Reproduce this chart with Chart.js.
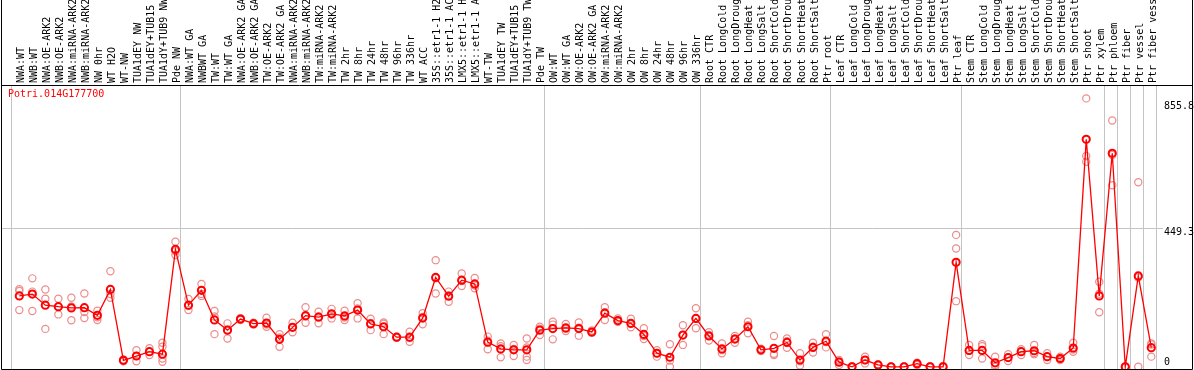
<!DOCTYPE html>
<html>
<head>
<meta charset="utf-8">
<script src="https://cdn.jsdelivr.net/npm/chart.js@4/dist/chart.umd.min.js"></script>
<style>
  html, body { margin: 0; padding: 0; background: #fff; }
  #wrap { width: 1194px; height: 370px; }
</style>
</head>
<body>
<div id="wrap"><canvas id="expr_chart"></canvas></div>
<script>
// Monster en waarden
var geneId = 'Potri.014G177700';

var sampleLabels = [
    'NWA:WT', 'NWB:WT', 'NWA:OE-ARK2', 'NWB:OE-ARK2', 'NWA:miRNA-ARK2', 'NWB:miRNA-ARK2',
    'NW 0hr', 'WT H2O', 'WT-NW', 'TUA1dEY NW', 'TUA1dEY+TUB15 NW', 'TUA1dY+TUB9 NW', 'Pde NW',
    'NWA:WT GA', 'NWBWT GA', 'TW:WT', 'TW:WT GA', 'NWA:OE-ARK2 GA', 'NWB:OE-ARK2 GA',
    'TW:OE-ARK2', 'TW:OE-ARK2 GA', 'NWA:miRNA-ARK2 GA', 'NWB:miRNA-ARK2 GA', 'TW:miRNA-ARK2',
    'TW:miRNA-ARK2 GA', 'TW 2hr', 'TW 8hr', 'TW 24hr', 'TW 48hr', 'TW 96hr', 'TW 336hr',
    'WT ACC', '35S::etr1-1 H2O', '35S::etr1-1 ACC', 'LMX5::etr1-1 H2O', 'LMX5::etr1-1 ACC',
    'WT-TW', 'TUA1dEY TW', 'TUA1dEY+TUB15 TW', 'TUA1dY+TUB9 TW', 'Pde TW',
    'OW:WT', 'OW:WT GA', 'OW:OE-ARK2', 'OW:OE-ARK2 GA', 'OW:miRNA-ARK2', 'OW:miRNA-ARK2 GA',
    'OW 2hr', 'OW 8hr', 'OW 24hr', 'OW 48hr', 'OW 96hr', 'OW 336hr',
    'Root CTR', 'Root LongCold', 'Root LongDrought', 'Root LongHeat', 'Root LongSalt',
    'Root ShortCold', 'Root ShortDrought', 'Root ShortHeat', 'Root ShortSalt', 'Ptr root',
    'Leaf CTR', 'Leaf LongCold', 'Leaf LongDrought', 'Leaf LongHeat', 'Leaf LongSalt',
    'Leaf ShortCold', 'Leaf ShortDrought', 'Leaf ShortHeat', 'Leaf ShortSalt', 'Ptr leaf',
    'Stem CTR', 'Stem LongCold', 'Stem LongDrought', 'Stem LongHeat', 'Stem LongSalt',
    'Stem ShortCold', 'Stem ShortDrought', 'Stem ShortHeat', 'Stem ShortSalt', 'Ptr shoot',
    'Ptr xylem', 'Ptr phloem', 'Ptr fiber', 'Ptr vessel', 'Ptr fiber vessel'
];

// gemiddelde per monster
var meanValues = [
    230, 236, 200, 195, 191, 192, 167, 251, 21, 35, 49, 41, 381,
    200, 248, 152, 119, 155, 140, 142, 89, 128, 166, 161, 172, 165, 184, 139, 130, 96, 96,
    158, 290, 229, 281, 269, 80, 58, 55, 55, 119,
    124, 126, 124, 113, 174, 150, 141, 105, 44, 31, 103, 157,
    100, 58, 90, 130, 55, 60, 79, 22, 63, 83,
    15, 0, 22, 6, 0, 0, 10, 0, 0, 339,
    53, 53, 13, 30, 49, 52, 33, 27, 61, 738,
    230, 693, 0, 295, 62
];

// losse replicaten per monster
var replicateValues = [
    [252, 246, 184], [287, 244, 181], [251, 221, 123], [221, 195, 170], [224, 196, 151],
    [238, 178, 158], [182, 161, 152], [310, 236, 224], [24, 18, 20], [54, 35, 18],
    [60, 49, 38], [78, 65, 27, 16], [406, 375, 363],
    [220, 198, 184], [269, 236, 230], [181, 163, 106], [141, 120, 92], [158, 152, 155],
    [143, 137, 140], [159, 137, 130], [106, 95, 65], [143, 128, 112], [193, 163, 143],
    [179, 163, 141], [188, 170, 157], [182, 160, 152], [206, 189, 157], [156, 142, 119],
    [144, 140, 106], [98, 94, 96], [114, 93, 81], [174, 162, 138], [346, 287, 238],
    [244, 232, 211], [303, 278, 262], [288, 264, 255], [98, 85, 57], [76, 67, 31],
    [71, 58, 35], [92, 63, 33, 22], [130, 124, 103],
    [146, 137, 89], [139, 123, 116], [144, 127, 101], [118, 110, 111], [193, 177, 152],
    [157, 147, 146], [156, 139, 128], [125, 100, 90], [54, 45, 33], [73, 20, 0],
    [135, 103, 71], [190, 156, 125],
    [112, 103, 85], [76, 54, 44], [100, 92, 78], [146, 135, 109], [59, 55, 51],
    [100, 42, 38], [92, 83, 62], [44, 18, 4], [78, 65, 46], [106, 80, 63],
    [22, 17, 6], [2, 0, 0], [33, 22, 11], [8, 6, 4], [0, 0, 0], [0, 0, 1], [13, 10, 6],
    [2, 0, 0], [3, 0, 0], [428, 384, 213],
    [71, 52, 38], [73, 67, 27], [33, 6, 0], [41, 30, 19], [57, 50, 38], [71, 45, 41],
    [44, 33, 22], [33, 27, 22], [78, 56, 49], [871, 684, 665],
    [276, 237, 177], [799, 687, 589], [0, 0, 0], [599, 290, 0], [76, 72, 33]
];

// rechter as: waarden en bijbehorende tekst
var yTickValues = [0, 449.3, 855.8];
var yTickTexts = ['0', '449.3', '855.8'];

// laatste monster van elke groep (scheidingslijnen)
var groupEnds = [-1, 12, 40, 52, 62, 72, 83, 84, 85, 86, 87];

var monoFont = { family: 'DejaVu Sans Mono', size: 10 };

// kader en titel
var kaderPlugin = {
    id: 'kader',
    afterDraw: function (chart) {
        var ctx = chart.ctx;
        ctx.save();
        ctx.strokeStyle = '#000';
        ctx.lineWidth = 1;
        ctx.beginPath();
        ctx.moveTo(1.5, 0); ctx.lineTo(1.5, 369.5);
        ctx.lineTo(1192.5, 369.5); ctx.lineTo(1192.5, 0);
        ctx.moveTo(1.5, 85.5); ctx.lineTo(1192.5, 85.5);
        ctx.stroke();
        ctx.fillStyle = '#ff0000';
        ctx.font = '10px "DejaVu Sans Mono"';
        ctx.textBaseline = 'alphabetic';
        ctx.fillText(geneId, 8, 97);
        ctx.restore();
    }
};

// geen extra ruimte voor de buitenste labels
function geenPadding(s) {
    s.paddingLeft = 0; s.paddingRight = 0; s.paddingTop = 0; s.paddingBottom = 0;
}

function tekenExpressieGrafiek() {
    var ctx = document.getElementById('expr_chart').getContext('2d');
    var meanPoints = meanValues.map(function (v, i) { return { x: i, y: v }; });
    var repPoints = [];
    replicateValues.forEach(function (reps, i) {
        reps.forEach(function (v) { repPoints.push({ x: i, y: v }); });
    });

    var xMin = -1.331, xMax = 87.9;
    var labelShift = 1.07; // gedraaide labels staan links van hun tick
    var yMin = -7.14, yMax = 914.4;

    return new Chart(ctx, {
        type: 'line',
        data: {
            datasets: [
                {
                    label: 'gemiddelde', data: meanPoints, order: 1,
                    borderColor: '#ff0000', borderWidth: 1.3,
                    pointRadius: 3.6, pointBorderWidth: 2, pointBorderColor: '#ff0000',
                    pointBackgroundColor: 'rgba(0,0,0,0)', tension: 0, xAxisID: 'x', yAxisID: 'y'
                },
                {
                    label: 'replicaten', data: repPoints, order: 2, showLine: false,
                    pointRadius: 3.6, pointBorderWidth: 1.2, pointBorderColor: 'rgb(236,140,140)',
                    pointBackgroundColor: 'rgba(0,0,0,0)', xAxisID: 'x', yAxisID: 'y'
                }
            ]
        },
        plugins: [kaderPlugin],
        options: {
            responsive: false,
            animation: false,
            devicePixelRatio: 1,
            layout: { autoPadding: false, padding: { left: 2, right: 0, top: 0, bottom: 1 } },
            plugins: { legend: { display: false }, tooltip: { enabled: false } },
            scales: {
                x: {
                    type: 'linear', position: 'bottom', min: xMin, max: xMax,
                    afterBuildTicks: function (s) { s.ticks = groupEnds.map(function (g) { return { value: g + 0.38 }; }); },
                    afterFit: function (s) { s.height = 0; geenPadding(s); },
                    grid: { color: '#c4c4c4', drawTicks: false, lineWidth: 1 },
                    border: { display: false },
                    ticks: { display: false }
                },
                xTop: {
                    type: 'linear', position: 'top', min: xMin - labelShift, max: xMax - labelShift,
                    afterBuildTicks: function (s) { s.ticks = sampleLabels.map(function (l, i) { return { value: i }; }); },
                    afterFit: function (s) { s.height = 85; geenPadding(s); },
                    grid: { display: false, drawTicks: false },
                    border: { display: false },
                    ticks: {
                        autoSkip: false, minRotation: 90, maxRotation: 90, padding: 2,
                        font: monoFont, color: '#000',
                        callback: function (v, i) { return sampleLabels[i]; }
                    }
                },
                y: {
                    type: 'linear', position: 'right', min: yMin, max: yMax,
                    afterBuildTicks: function (s) { s.ticks = [{ value: yTickValues[1] }]; },
                    afterFit: function (s) { s.width = 0; geenPadding(s); },
                    grid: { color: '#c4c4c4', drawTicks: false },
                    border: { display: false },
                    ticks: { display: false }
                },
                yLab: {
                    type: 'linear', position: 'right', min: yMin, max: yMax,
                    // tekst iets onder de lijn, 0 iets erboven
                    afterBuildTicks: function (s) { s.ticks = [{ value: 14.6 }, { value: 437.4 }, { value: 846 }]; },
                    afterFit: function (s) { s.width = 31; geenPadding(s); },
                    grid: { display: false, drawTicks: false },
                    border: { display: false },
                    ticks: {
                        padding: 1, font: monoFont, color: '#000',
                        callback: function (v, i) { return yTickTexts[i]; }
                    }
                }
            }
        }
    });
}

document.getElementById('expr_chart').width = 1194;
document.getElementById('expr_chart').height = 370;
tekenExpressieGrafiek();
</script>
</body>
</html>
